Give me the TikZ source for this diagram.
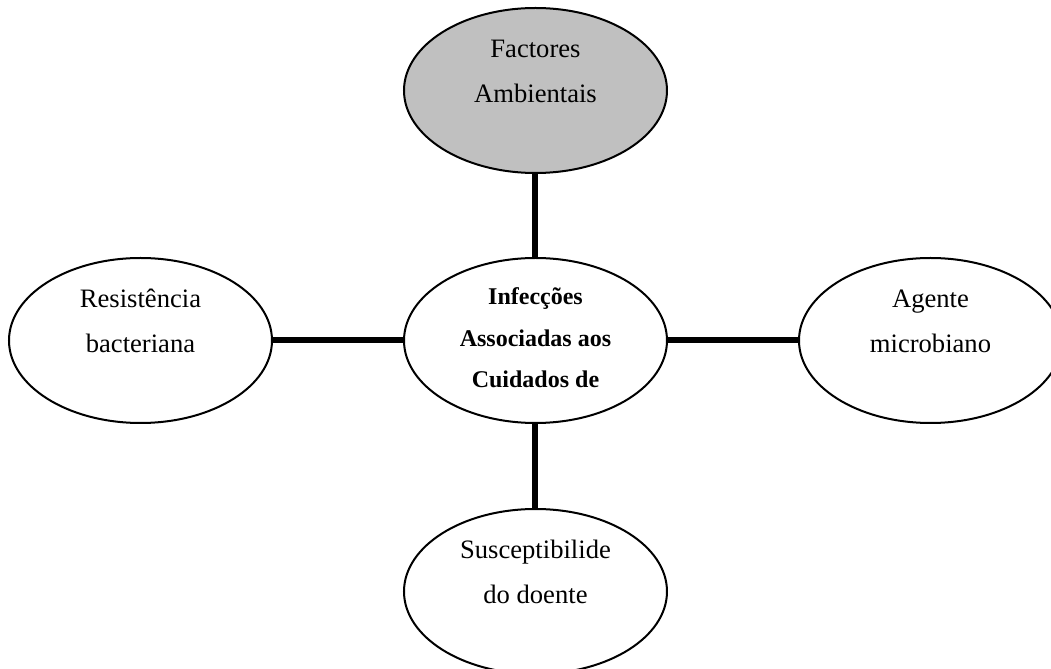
\documentclass[tikz,border=0pt]{standalone}
\usepackage{fontspec}
\setmainfont{Liberation Serif}
\usetikzlibrary{positioning}
\usetikzlibrary{shapes.geometric}
\definecolor{envgray}{RGB}{192,192,192}
\tikzstyle{factnode} = [draw, ellipse, line width=1pt, minimum width=131.5pt, minimum height=82.5pt, inner sep=0pt, align=center, text height=31pt, text depth=18.5pt, font=\fontsize{13.3}{22.5}\selectfont]
\tikzstyle{hubnode} = [factnode, text height=50pt, text depth=2.5pt, font=\fontsize{12}{20.75}\selectfont\bfseries]
\tikzstyle{shaded} = [fill=envgray]
\tikzstyle{link} = [line width=3pt]

\begin{document}
\begin{tikzpicture}
  \useasboundingbox (-267.75pt,-164.25pt) rectangle (257.75pt,170.25pt);

  \node[hubnode] (iacs) at (0,0) {Infecções\\Associadas aos\\Cuidados de};
  \node[factnode, shaded, above=41.5pt of iacs] (amb) {Factores\\Ambientais};
  \node[factnode, left=65pt of iacs] (res) {Resistência\\bacteriana};
  \node[factnode, right=65pt of iacs] (agente) {Agente\\microbiano};
  \node[factnode, below=42pt of iacs] (doente) {Susceptibilide\\do doente};

  \draw[link] (amb) -- (iacs);
  \draw[link] (res) -- (iacs);
  \draw[link] (iacs) -- (agente);
  \draw[link] (iacs) -- (doente);
\end{tikzpicture}
\end{document}
